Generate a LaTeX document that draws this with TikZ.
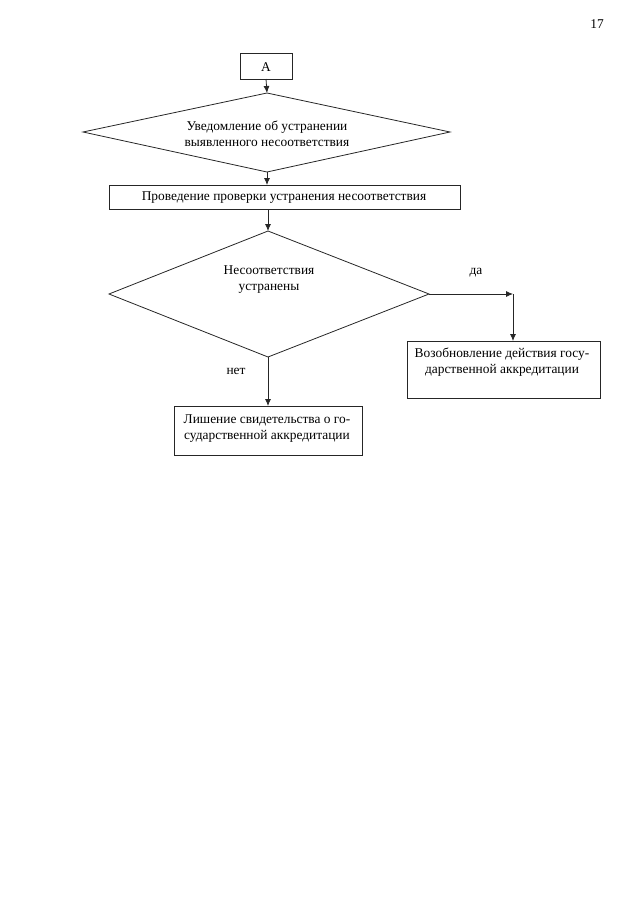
\documentclass[tikz,border=0pt]{standalone}
\usepackage{fontspec}
\setmainfont{Liberation Serif}
\usetikzlibrary{arrows.meta}
\begin{document}
\begin{tikzpicture}[x=1pt,y=-1pt,
  every node/.style={font=\fontsize{13.4}{16}\selectfont},
  ln/.style={line width=0.8pt,draw=black!85},
  arr/.style={ln,-{Latex[length=7pt,width=6pt]}},
  lbl/.style={inner sep=0pt,align=center}]
\useasboundingbox (0,0) rectangle (640,905);
\node[lbl] (pg) at (597,24) {17};
% box A
\draw[ln] (240,53) rectangle (292,79);
\node[lbl] (a) at (266,67) {А};
\coordinate (aB) at (266,79);
% diamond 1
\draw[ln] (267,93) -- (450,132) -- (267,172) -- (83,132) -- cycle;
\coordinate (d1T) at (267,93);
\coordinate (d1B) at (267,172);
\node[lbl] (d1) at (267,134) {Уведомление об устранении\\выявленного несоответствия};
% box 2
\draw[ln] (109,185) rectangle (460,209);
\coordinate (b2T) at (267,185);
\coordinate (b2B) at (268,209);
\node[lbl] (b2) at (284,198) {Проведение проверки устранения несоответствия};
% diamond 2
\draw[ln] (268,231) -- (429,294) -- (268,357) -- (109,294) -- cycle;
\coordinate (d2T) at (268,231);
\coordinate (d2R) at (429,294);
\coordinate (d2B) at (268,357);
\node[lbl] (d2) at (269,280) {Несоответствия\\устранены};
\node[lbl] (yes) at (476,273) {да};
\node[lbl] (no) at (236,371) {нет};
% box 3
\draw[ln] (407,341) rectangle (600,398);
\coordinate (b3T) at (513,341);
\node[lbl] (b3) at (502,362) {Возобновление действия госу-\\дарственной аккредитации};
% box 4
\draw[ln] (174,406) rectangle (362,455);
\coordinate (b4T) at (268,406);
\node[lbl] (b4) at (267,429) {Лишение свидетельства о го-\\сударственной аккредитации};
% connectors
\coordinate (corner) at (513,294);
\draw[arr] (aB) -- (d1T);
\draw[arr] (d1B) -- (b2T);
\draw[arr] (b2B) -- (d2T);
\draw[arr] (d2R) -- (corner);
\draw[arr] (corner) -- (b3T);
\draw[arr] (d2B) -- (b4T);
\end{tikzpicture}
\end{document}
